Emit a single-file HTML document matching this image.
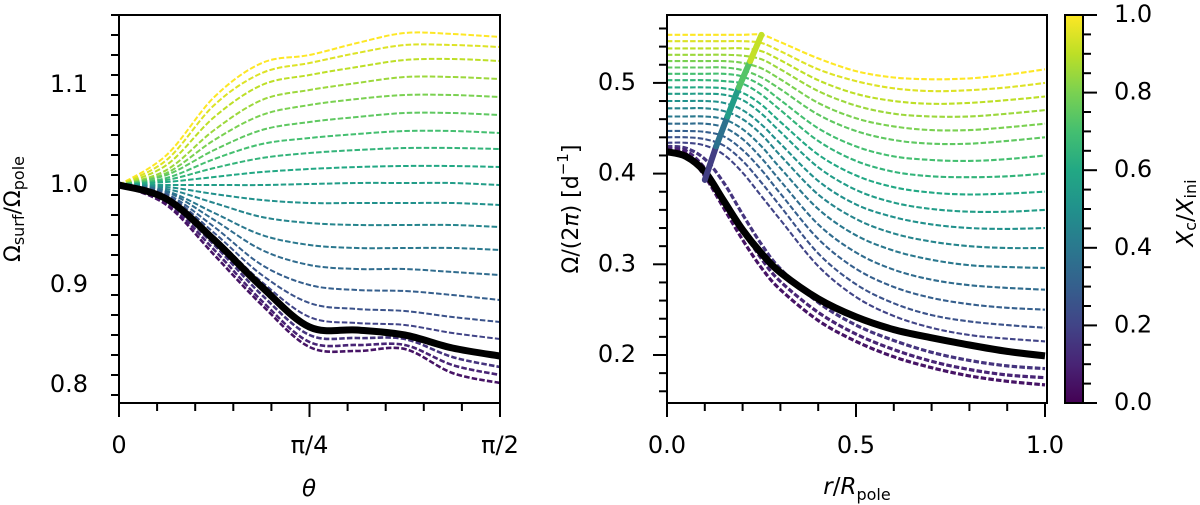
<!DOCTYPE html>
<html><head><meta charset="utf-8">
<style>
body{margin:0;background:#fff;}
svg{display:block;font-family:"DejaVu Sans","Liberation Sans",sans-serif;}
</style></head>
<body>
<svg id="fig" width="1200" height="505" viewBox="0 0 1200 505" xmlns="http://www.w3.org/2000/svg">
<defs>
<linearGradient id="vir" x1="0" y1="1" x2="0" y2="0">
<stop offset="0" stop-color="#440154"/><stop offset="0.1" stop-color="#482475"/><stop offset="0.2" stop-color="#414487"/><stop offset="0.3" stop-color="#355f8d"/><stop offset="0.4" stop-color="#2a788e"/><stop offset="0.5" stop-color="#21918c"/><stop offset="0.6" stop-color="#22a884"/><stop offset="0.7" stop-color="#44bf70"/><stop offset="0.8" stop-color="#7ad151"/><stop offset="0.9" stop-color="#bddf26"/><stop offset="1" stop-color="#fde725"/>
</linearGradient>
<clipPath id="clipL"><rect x="119" y="15" width="381" height="388"/></clipPath>
<clipPath id="clipR"><rect x="667" y="15" width="380" height="388"/></clipPath>
</defs>
<g id="left"></g>
<g id="right"></g>
<g id="cbar">
<rect x="1065" y="15" width="18" height="388" fill="url(#vir)" stroke="#000" stroke-width="2"/>
</g>
<text x="14" y="209" font-size="22" text-anchor="middle" transform="rotate(-90 14 209)" dominant-baseline="middle">Ω<tspan font-size="16" dy="5">surf</tspan><tspan dy="-5">/Ω</tspan><tspan font-size="16" dy="5">pole</tspan></text>
<text x="309" y="496" font-size="23" text-anchor="middle" font-style="italic">θ</text>
<text x="572" y="209" font-size="22" text-anchor="middle" transform="rotate(-90 572 209)" dominant-baseline="middle">Ω/(2<tspan font-style="italic">π</tspan>) [d<tspan font-size="15" dy="-9">−1</tspan><tspan dy="9">]</tspan></text>
<text x="857" y="494" font-size="23" text-anchor="middle"><tspan font-style="italic">r</tspan>/<tspan font-style="italic">R</tspan><tspan font-size="16" dy="6">pole</tspan></text>
<text x="1186" y="213" font-size="23" text-anchor="middle" transform="rotate(-90 1186 213)" dominant-baseline="middle"><tspan font-style="italic">X</tspan><tspan font-size="16" dy="5">c</tspan><tspan dy="-5">/</tspan><tspan font-style="italic">X</tspan><tspan font-size="16" dy="5">ini</tspan></text>
</svg>
<script>
// ---------- LEFT PANEL DATA ----------
const thetaGrid = [0, 1/16, 2/16, 3/16, 4/16, 5/16, 6/16, 7/16, 8/16]; // multiples of pi
const leftC = [1.00,0.95,0.90,0.85,0.80,0.75,0.70,0.65,0.60,0.55,0.50,0.45,0.40,0.35,0.30,0.25,0.20,0.15,0.10,0.05];
const leftSeries = [
[1.000,1.030,1.088,1.122,1.130,1.142,1.152,1.151,1.148],
[1.000,1.025,1.080,1.112,1.122,1.132,1.140,1.140,1.138],
[1.000,1.020,1.068,1.100,1.110,1.118,1.125,1.126,1.124],
[1.000,1.015,1.055,1.085,1.095,1.102,1.108,1.108,1.106],
[1.000,1.012,1.045,1.070,1.080,1.086,1.090,1.090,1.088],
[1.000,1.010,1.035,1.055,1.063,1.068,1.072,1.072,1.070],
[1.000,1.007,1.026,1.041,1.047,1.051,1.054,1.054,1.052],
[1.000,1.005,1.017,1.027,1.032,1.035,1.037,1.037,1.036],
[1.000,1.003,1.008,1.013,1.016,1.018,1.019,1.019,1.018],
[1.000,1.000,1.000,1.000,1.001,1.002,1.002,1.002,1.000],
[1.000,0.998,0.991,0.985,0.982,0.982,0.982,0.982,0.980],
[1.000,0.996,0.982,0.968,0.962,0.960,0.960,0.960,0.958],
[1.000,0.994,0.972,0.950,0.940,0.937,0.937,0.937,0.935],
[1.000,0.993,0.965,0.935,0.920,0.916,0.916,0.913,0.910],
[1.000,0.991,0.958,0.920,0.900,0.895,0.894,0.890,0.885],
[1.000,0.990,0.952,0.910,0.882,0.876,0.874,0.868,0.863],
[1.000,0.988,0.948,0.903,0.868,0.862,0.860,0.852,0.846],
[1.000,0.984,0.940,0.890,0.850,0.847,0.846,0.828,0.818],
[1.000,0.982,0.935,0.884,0.843,0.840,0.840,0.820,0.810],
[1.000,0.980,0.930,0.880,0.838,0.834,0.836,0.812,0.802]
];
const leftBlack = [1.000,0.986,0.945,0.898,0.858,0.855,0.850,0.837,0.829];
const leftYTicks = [0.8,0.9,1.0,1.1];
const leftYTickLabels = ["0.8","0.9","1.0","1.1"];
const leftXTicks = [0, 0.25, 0.5];
const leftXTickLabels = ["0","π/4","π/2"];

// ---------- RIGHT PANEL DATA ----------
const rGrid = [0,0.05,0.1,0.15,0.2,0.25,0.3,0.4,0.5,0.6,0.7,0.8,0.9,1.0];
const rightC = [1.00,0.95,0.90,0.85,0.80,0.75,0.70,0.65,0.60,0.55,0.50,0.45,0.40,0.35,0.30,0.25,0.20,0.15,0.10,0.05];
const rightSeries = [
[.553,.553,.553,.553,.553,.553,.545,.527,.513,.506,.504,.505,.509,.515],
[.546,.546,.546,.546,.546,.544,.535,.515,.502,.494,.491,.492,.495,.500],
[.538,.538,.538,.538,.538,.535,.525,.503,.488,.480,.477,.478,.481,.485],
[.531,.531,.531,.531,.530,.526,.515,.491,.475,.466,.463,.463,.466,.470],
[.524,.524,.524,.524,.522,.516,.504,.478,.461,.452,.448,.448,.451,.455],
[.517,.517,.517,.517,.514,.506,.493,.465,.447,.437,.433,.433,.436,.440],
[.510,.510,.510,.510,.507,.497,.481,.450,.430,.419,.415,.414,.416,.420],
[.503,.503,.503,.502,.499,.487,.470,.436,.414,.402,.397,.396,.397,.400],
[.495,.495,.495,.494,.489,.476,.457,.421,.398,.385,.379,.377,.378,.380],
[.488,.488,.488,.487,.481,.466,.446,.407,.382,.368,.361,.358,.358,.360],
[.480,.480,.480,.478,.470,.454,.433,.392,.366,.352,.344,.340,.339,.340],
[.472,.472,.472,.469,.460,.443,.420,.377,.350,.334,.325,.320,.318,.318],
[.463,.463,.463,.460,.449,.430,.406,.361,.332,.315,.305,.299,.297,.296],
[.455,.455,.455,.451,.438,.417,.392,.344,.313,.294,.283,.277,.274,.272],
[.447,.447,.446,.441,.426,.404,.378,.328,.295,.275,.263,.256,.252,.250],
[.440,.440,.438,.431,.414,.390,.364,.312,.278,.257,.244,.237,.233,.230],
[.434,.434,.431,.421,.401,.375,.349,.298,.264,.243,.230,.222,.218,.215],
[.430,.428,.416,.390,.355,.322,.295,.258,.233,.216,.203,.194,.188,.185],
[.428,.425,.406,.372,.338,.306,.281,.247,.223,.206,.193,.184,.178,.175],
[.425,.422,.397,.362,.327,.296,.272,.238,.215,.198,.186,.177,.171,.167]
];
const rightBlack = [.424,.419,.402,.370,.338,.312,.291,.262,.242,.228,.219,.211,.204,.199];
const turnC = [0.08,0.28,0.46,0.64,0.82,1.0];
const turnR = [0.100,0.130,0.160,0.190,0.220,0.250];
const turnV = [0.393,0.430,0.463,0.495,0.524,0.553];
const rightYTicks = [0.2,0.3,0.4,0.5];
const rightYTickLabels = ["0.2","0.3","0.4","0.5"];
const rightXTicks = [0,0.5,1.0];
const rightXTickLabels = ["0.0","0.5","1.0"];
const cbTicks = [0,0.2,0.4,0.6,0.8,1.0];
const cbTickLabels = ["0.0","0.2","0.4","0.6","0.8","1.0"];

// ---------- helpers ----------
const NS = "http://www.w3.org/2000/svg";
const VIR = ["#440154","#482475","#414487","#355f8d","#2a788e","#21918c","#22a884","#44bf70","#7ad151","#bddf26","#fde725"];
function hex(h){return [parseInt(h.slice(1,3),16),parseInt(h.slice(3,5),16),parseInt(h.slice(5,7),16)];}
function viridis(t){t=Math.max(0,Math.min(1,t));const p=t*10;const i=Math.min(9,Math.floor(p));const f=p-i;const a=hex(VIR[i]),b=hex(VIR[i+1]);return "rgb("+a.map((v,k)=>Math.round(v+(b[k]-v)*f)).join(",")+")";}
function mk(tag, attrs, parent){const e=document.createElementNS(NS,tag);for(const k in attrs)e.setAttribute(k,attrs[k]);parent.appendChild(e);return e;}
function smooth(pts){let d="M"+pts[0][0].toFixed(1)+","+pts[0][1].toFixed(1);for(let i=0;i<pts.length-1;i++){const p0=pts[i-1]||pts[i],p1=pts[i],p2=pts[i+1],p3=pts[i+2]||p2;const c1=[p1[0]+(p2[0]-p0[0])/6,p1[1]+(p2[1]-p0[1])/6],c2=[p2[0]-(p3[0]-p1[0])/6,p2[1]-(p3[1]-p1[1])/6];d+="C"+c1[0].toFixed(1)+","+c1[1].toFixed(1)+" "+c2[0].toFixed(1)+","+c2[1].toFixed(1)+" "+p2[0].toFixed(1)+","+p2[1].toFixed(1);}return d;}

const xL = t => 119 + t/0.5*381;
const yL = v => 185 - (v-1.0)*1000;
const xR = r => 667 + r*378;
const yR = v => 355 - (v-0.2)*907;

function axesFrame(g, x0, x1, y0, y1){
  const f = mk("rect",{x:x0,y:y0,width:x1-x0,height:y1-y0,fill:"none",stroke:"#000","stroke-width":2},g);
  
  
}
function tick(g, x1,y1,x2,y2,name){
  const t=mk("line",{x1:x1,y1:y1,x2:x2,y2:y2,stroke:"#000","stroke-width":2},g);
  
  
}
function label(g,x,y,txt,anchor,name){
  const t=mk("text",{x:x,y:y,"font-size":24,"text-anchor":anchor,"dominant-baseline":"middle"},g);
  t.textContent=txt;
  
  
}

// ---------- LEFT ----------
const gL = document.getElementById("left");
const gLc = mk("g",{"clip-path":"url(#clipL)"},gL);
leftSeries.forEach((s,i)=>{
  const p=mk("path",{d:smooth(s.map((v,j)=>[xL(thetaGrid[j]),yL(v)])),fill:"none",stroke:viridis(leftC[i]),"stroke-width":leftC[i]<0.2?2.6:2.0,"stroke-dasharray":"5.5,2.2"},gLc);
  
  
});
const bl=mk("path",{d:smooth(leftBlack.map((v,j)=>[xL(thetaGrid[j]),yL(v)])),fill:"none",stroke:"#000","stroke-width":7,"stroke-linecap":"round"},gLc);


axesFrame(gL,119,500,15,403);
for(let v=0.79; v<=1.171; v+=0.02){const major=leftYTicks.some(t=>Math.abs(t-v)<1e-6);tick(gL,119,yL(v),119-(major?14:8),yL(v),major?'left-y-major-tick':'left-y-minor-tick');}
leftYTicks.forEach((v,i)=>label(gL,88,yL(v),leftYTickLabels[i],"end","left-y-tick-label"));
for(let k=0;k<=10;k++){const t=k*0.05;const major=(k%5===0);tick(gL,xL(t),403,xL(t),403+(major?14:8),major?'left-x-major-tick':'left-x-minor-tick');}
leftXTicks.forEach((t,i)=>label(gL,xL(t),446,leftXTickLabels[i],"middle","left-x-tick-label"));

// ---------- RIGHT ----------
const gR = document.getElementById("right");
const gRc = mk("g",{"clip-path":"url(#clipR)"},gR);
rightSeries.forEach((s,i)=>{
  const p=mk("path",{d:smooth(s.map((v,j)=>[xR(rGrid[j]),yR(v)])),fill:"none",stroke:viridis(rightC[i]),"stroke-width":rightC[i]<0.2?3.2:2.1,"stroke-dasharray":"5.5,2.2"},gRc);
  
  
});
const br=mk("path",{d:smooth(rightBlack.map((v,j)=>[xR(rGrid[j]),yR(v)])),fill:"none",stroke:"#000","stroke-width":7},gRc);


for(let i=0;i<turnR.length-1;i++){
  const s=mk("line",{x1:xR(turnR[i]),y1:yR(turnV[i]),x2:xR(turnR[i+1]),y2:yR(turnV[i+1]),stroke:viridis((turnC[i]+turnC[i+1])/2),"stroke-width":6,"stroke-linecap":"round"},gRc);
  
  
}
axesFrame(gR,667,1047,15,403);
for(let v=0.16; v<=0.571; v+=0.02){const major=rightYTicks.some(t=>Math.abs(t-v)<1e-6);tick(gR,667,yR(v),667-(major?14:8),yR(v),major?'right-y-major-tick':'right-y-minor-tick');}
rightYTicks.forEach((v,i)=>label(gR,636,yR(v),rightYTickLabels[i],"end","right-y-tick-label"));
for(let k=0;k<=10;k++){const r=k*0.1;const major=(k%5===0);tick(gR,xR(r),403,xR(r),403+(major?14:8),major?'right-x-major-tick':'right-x-minor-tick');}
rightXTicks.forEach((r,i)=>label(gR,xR(r),446,rightXTickLabels[i],"middle","right-x-tick-label"));

// ---------- COLORBAR ----------
const gC = document.getElementById("cbar");
const yC = c => 403 - c*388;
for(let k=0;k<=20;k++){const c=k*0.05;const major=(k%4===0);tick(gC,1083,yC(c),1083+(major?14:8),yC(c),major?'colorbar-major-tick':'colorbar-minor-tick');}
cbTicks.forEach((c,i)=>label(gC,1114,yC(c),cbTickLabels[i],"start","colorbar-tick-label"));
</script>
</body></html>
